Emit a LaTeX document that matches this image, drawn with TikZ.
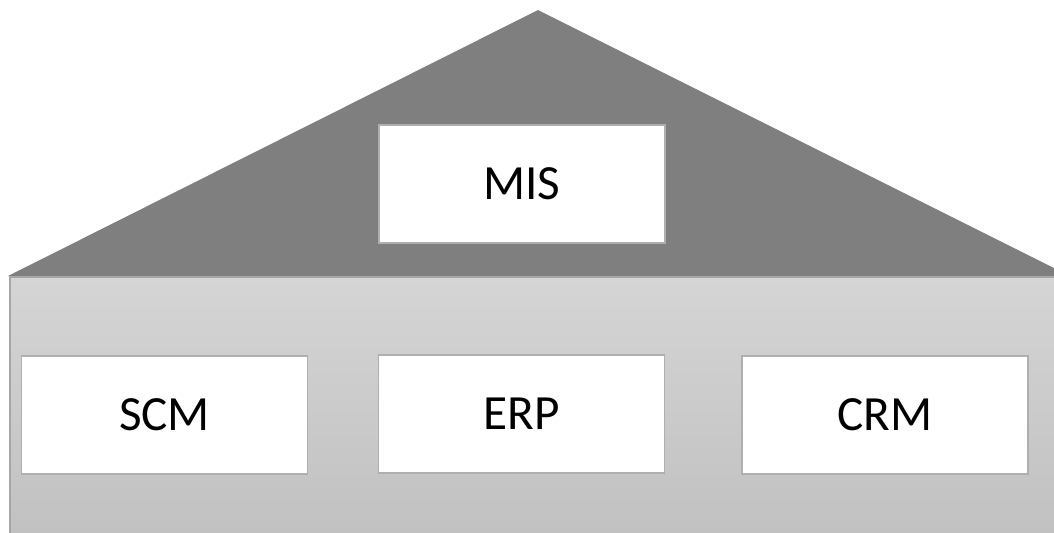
\documentclass[tikz,border=0pt]{standalone}
\usepackage{fontspec}
\setmainfont{Carlito}
\usetikzlibrary{positioning}
\definecolor{roofgray}{RGB}{127,127,127}
\definecolor{walltop}{RGB}{213,213,213}
\definecolor{wallbot}{RGB}{192,192,192}
\definecolor{wallline}{RGB}{166,166,166}
\definecolor{boxline}{RGB}{175,175,175}
\tikzset{
  modul/.style={draw=boxline, line width=1pt, fill=white, minimum width=5.72cm, minimum height=2.36cm, font=\fontsize{28}{33}\selectfont}
}

\begin{document}
\begin{tikzpicture}[x=0.02cm, y=-0.02cm]
\useasboundingbox (0,0) rectangle (1054,532);
\fill[roofgray] (8,276) -- (538,10) -- (1070,276) -- cycle;
\shade[top color=walltop, bottom color=wallbot, draw=wallline, line width=1.2pt] (10,277) rectangle (1070,545);
\node[modul] (mis) at (522,184) {MIS};
\node[modul] (scm) at (164.5,415) {SCM};
\node[modul] (erp) at (521.5,414) {ERP};
\node[modul] (crm) at (885,415) {CRM};
\end{tikzpicture}
\end{document}
